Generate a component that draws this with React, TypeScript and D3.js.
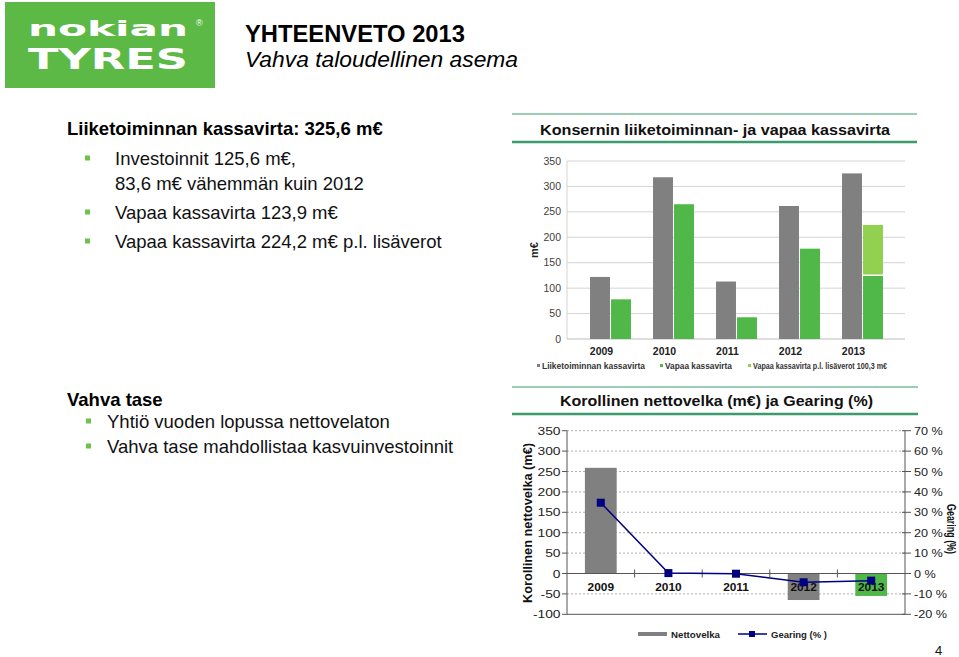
import React from "react";
import * as d3 from "d3";

const years = ["2009", "2010", "2011", "2012", "2013"];
const operatingCashFlow = [122, 318, 113, 261.5, 325.6];
const freeCashFlow = [78, 265, 42.7, 177.6, 123.9];
const freeCashFlowExTax = [0, 0, 0, 0, 100.3];
const cashTicks = [0, 50, 100, 150, 200, 250, 300, 350];
const cashLegend = ["Liiketoiminnan kassavirta", "Vapaa kassavirta", "Vapaa kassavirta p.l. lisäverot 100,3 m€"];

const netDebt = [259, 1, -1, -65, -55];
const gearing = [34.7, 0.2, -0.1, -4.3, -3.5];
const debtTicks = [-100, -50, 0, 50, 100, 150, 200, 250, 300, 350];
const gearingTicks = [-20, -10, 0, 10, 20, 30, 40, 50, 60, 70];

const FONT = "'Liberation Sans', Arial, sans-serif";
const GRAY = "#808080";
const GREEN = "#4fb848";
const LIGHT_GREEN = "#92d050";
const NAVY = "#000080";
const RULE = "#3d9a6e";

// stretched text helper (the pasted chart is slightly wider than tall)
const SText = ({ x, y, sx = 1, anchor = "start", size, weight = "normal", fill = "#222", children }: any) => (
	<text
		transform={`translate(${x},${y}) scale(${sx},1)`}
		textAnchor={anchor}
		fontSize={size}
		fontWeight={weight}
		fill={fill}
		fontFamily={FONT}
	>
		{children}
	</text>
);

const Bullet = ({ x, y }: { x: number; y: number }) => (
	<rect x={x} y={y - 2.5} width={5} height={5} fill="#6cc24a" />
);

const CashFlowChart = () => {
	const y = d3.scaleLinear().domain([0, 350]).range([339, 161]);
	const x0 = d3.scaleBand().domain(years).range([579, 894]).paddingInner(0.35).paddingOuter(0.175);
	const x1 = d3.scaleBand().domain(["op", "free"]).range([0, x0.bandwidth()]).paddingInner(0.05);
	const legendX = [542, 665, 753];
	const legendW = [103, 67, 134];
	const legendColors = [GRAY, GREEN, LIGHT_GREEN];

	return (
		<g>
			<line x1={512} x2={917} y1={114} y2={114} stroke={RULE} strokeWidth={1.2} />
			<line x1={512} x2={917} y1={142} y2={142} stroke={RULE} strokeWidth={2.5} />
			<text x={540} y={135} fontSize={14} fontWeight="bold" fontFamily={FONT} fill="#111" textLength={350} lengthAdjust="spacingAndGlyphs">
				Konsernin liiketoiminnan- ja vapaa kassavirta
			</text>

			{cashTicks.map((t) => (
				<g key={t}>
					{t > 0 && <line x1={567} x2={905} y1={y(t)} y2={y(t)} stroke="#d4d4d4" strokeWidth={1} />}
					<SText x={561} y={y(t) + 3.5} anchor="end" size={10} sx={1.05} fill="#404040">{t}</SText>
				</g>
			))}
			<line x1={567} x2={567} y1={y(350)} y2={y(0)} stroke="#d4d4d4" />
			<line x1={567} x2={905} y1={y(0)} y2={y(0)} stroke="#bdbdbd" />
			<text transform={`translate(538,${y(175)}) rotate(-90)`} textAnchor="middle" fontSize={11} fontWeight="bold" fontFamily={FONT} fill="#222">
				m€
			</text>

			{years.map((yr, i) => {
				const gx = x0(yr)!;
				return (
					<g key={yr}>
						<rect x={gx + x1("op")!} y={y(operatingCashFlow[i])} width={x1.bandwidth()} height={y(0) - y(operatingCashFlow[i])} fill={GRAY} />
						<rect x={gx + x1("free")!} y={y(freeCashFlow[i])} width={x1.bandwidth()} height={y(0) - y(freeCashFlow[i])} fill={GREEN} />
						{freeCashFlowExTax[i] > 0 && (
							<rect
								x={gx + x1("free")!}
								y={y(freeCashFlow[i] + freeCashFlowExTax[i])}
								width={x1.bandwidth()}
								height={y(freeCashFlow[i]) - y(freeCashFlow[i] + freeCashFlowExTax[i]) - 1.5}
								fill={LIGHT_GREEN}
							/>
						)}
						<SText x={gx + x1("op")! + x1.bandwidth() / 2 + 1.5} y={354.5} anchor="middle" size={10} weight="bold" sx={1.05}>
							{yr}
						</SText>
					</g>
				);
			})}

			{cashLegend.map((label, i) => (
				<g key={label}>
					<rect x={legendX[i] - 5} y={364} width={3} height={3} fill={legendColors[i]} />
					<text x={legendX[i]} y={369} fontSize={9} fontWeight="bold" fontFamily={FONT} fill="#333" textLength={legendW[i]} lengthAdjust="spacingAndGlyphs">
						{label}
					</text>
				</g>
			))}
		</g>
	);
};

const NetDebtChart = () => {
	const yL = d3.scaleLinear().domain([-100, 350]).range([614.3, 430.7]);
	const yR = d3.scaleLinear().domain([-20, 70]).range([614.3, 430.7]);
	const x = d3.scaleBand().domain(years).range([567, 905]).paddingInner(0.53).paddingOuter(0.265);
	const step = x.step();
	const cx = (yr: string) => x(yr)! + x.bandwidth() / 2;
	const lineGen = d3.line<number>().x((_, i) => cx(years[i])).y((d) => yR(d));

	return (
		<g>
			<line x1={512} x2={918} y1={387} y2={387} stroke={RULE} strokeWidth={1.2} />
			<line x1={512} x2={918} y1={414} y2={414} stroke={RULE} strokeWidth={2.5} />
			<text x={560} y={406} fontSize={14.5} fontWeight="bold" fontFamily={FONT} fill="#111" textLength={313} lengthAdjust="spacingAndGlyphs">
				Korollinen nettovelka (m€) ja Gearing (%)
			</text>

			{debtTicks.map((t) => (
				<g key={t}>
					{t !== 0 && t !== -100 && (
						<line x1={567} x2={905} y1={yL(t)} y2={yL(t)} stroke="#9a9a9a" strokeWidth={0.8} strokeDasharray="2,2" />
					)}
					<line x1={562} x2={567} y1={yL(t)} y2={yL(t)} stroke="#555" />
					<SText x={560.5} y={yL(t) + 4} anchor="end" size={11.5} sx={1.2} fill="#222">{t}</SText>
				</g>
			))}
			{gearingTicks.map((t) => (
				<g key={t}>
					<line x1={902} x2={911} y1={yR(t)} y2={yR(t)} stroke="#555" />
					<SText x={914} y={yR(t) + 4} size={11.5} sx={1.1} fill="#222">{`${t} %`}</SText>
				</g>
			))}

			{years.map((yr, i) => {
				const v = netDebt[i];
				const top = Math.min(yL(v), yL(0));
				const h = Math.abs(yL(v) - yL(0));
				return <rect key={yr} x={x(yr)!} y={top} width={x.bandwidth()} height={h} fill={i === 4 ? GREEN : GRAY} />;
			})}

			<line x1={567} x2={567} y1={yL(350)} y2={yL(-100)} stroke="#555" />
			<line x1={905} x2={905} y1={yL(350)} y2={yL(-100)} stroke="#555" />
			<line x1={567} x2={905} y1={yL(-100)} y2={yL(-100)} stroke="#555" />
			<line x1={567} x2={905} y1={yL(0)} y2={yL(0)} stroke="#555" />
			{years.slice(1).map((yr) => (
				<line key={yr} x1={x(yr)! - (step - x.bandwidth()) / 2} x2={x(yr)! - (step - x.bandwidth()) / 2} y1={yL(0) - 4} y2={yL(0) + 4} stroke="#555" />
			))}

			{years.map((yr) => (
				<SText key={yr} x={cx(yr)} y={591} anchor="middle" size={11} weight="bold" sx={1.08} fill="#111">
					{yr}
				</SText>
			))}

			<path d={lineGen(gearing) || ""} fill="none" stroke={NAVY} strokeWidth={1.5} />
			{gearing.map((g, i) => (
				<rect key={i} x={cx(years[i]) - 4} y={yR(g) - 4} width={8} height={8} fill={NAVY} />
			))}

			<text transform={`translate(532,523) rotate(-90)`} textAnchor="middle" fontSize={12} fontWeight="bold" fontFamily={FONT} fill="#111" textLength={160} lengthAdjust="spacingAndGlyphs">
				Korollinen nettovelka (m€)
			</text>
			<text transform={`translate(947,529) rotate(90)`} textAnchor="middle" fontSize={12} fontWeight="bold" fontFamily={FONT} fill="#111" textLength={50} lengthAdjust="spacingAndGlyphs">
				Gearing (%)
			</text>

			<rect x={638} y={632} width={29} height={4} fill={GRAY} />
			<text x={671} y={637.5} fontSize={9.5} fontWeight="bold" fontFamily={FONT} fill="#222" textLength={49} lengthAdjust="spacingAndGlyphs">
				Nettovelka
			</text>
			<line x1={738} x2={767} y1={634} y2={634} stroke={NAVY} strokeWidth={1.5} />
			<rect x={749} y={631} width={6} height={6} fill={NAVY} />
			<text x={771} y={637.5} fontSize={9.5} fontWeight="bold" fontFamily={FONT} fill="#222" textLength={56} lengthAdjust="spacingAndGlyphs">
				Gearing (% )
			</text>
		</g>
	);
};

export default function App() {
	return (
		<div style={{ position: "absolute", left: 0, top: 0 }}>
			<svg width={959} height={657} style={{ display: "block", background: "#fff" }} fontFamily={FONT}>
				{/* logo */}
				<rect x={5} y={2} width={210} height={86} fill="#5cb946" />
				<text x={28} y={36} fontFamily="'DejaVu Sans', sans-serif" fontWeight="bold" fontSize={22} fill="#fff" textLength={160} lengthAdjust="spacingAndGlyphs">
					nokian
				</text>
				<text x={28} y={69} fontFamily="'DejaVu Sans', sans-serif" fontWeight="bold" fontSize={29} fill="#fff" textLength={160} lengthAdjust="spacingAndGlyphs">
					TYRES
				</text>
				<text x={196} y={26} fontSize={9} fill="#fff">®</text>

				<text x={245} y={42} fontSize={24} fontWeight="bold" fill="#000" textLength={220} lengthAdjust="spacingAndGlyphs">
					YHTEENVETO 2013
				</text>
				<text x={245} y={67} fontSize={22.5} fontStyle="italic" fill="#000" textLength={273} lengthAdjust="spacingAndGlyphs">
					Vahva taloudellinen asema
				</text>

				{/* left text, upper block */}
				<text x={67} y={135} fontSize={18.5} fontWeight="bold" fill="#000">Liiketoiminnan kassavirta: 325,6 m€</text>
				<Bullet x={85} y={158} />
				<text x={115} y={165} fontSize={18.5} fill="#111">Investoinnit 125,6 m€,</text>
				<text x={115} y={190} fontSize={18.5} fill="#111">83,6 m€ vähemmän kuin 2012</text>
				<Bullet x={85} y={212} />
				<text x={115} y={219} fontSize={18.5} fill="#111">Vapaa kassavirta 123,9 m€</text>
				<Bullet x={85} y={241} />
				<text x={115} y={248} fontSize={18.5} fill="#111">Vapaa kassavirta 224,2 m€ p.l. lisäverot</text>

				{/* left text, lower block */}
				<text x={67} y={406} fontSize={18.5} fontWeight="bold" fill="#000">Vahva tase</text>
				<Bullet x={86} y={421} />
				<text x={107} y={428} fontSize={18.5} fill="#111">Yhtiö vuoden lopussa nettovelaton</text>
				<Bullet x={86} y={446} />
				<text x={107} y={453} fontSize={18.5} fill="#111">Vahva tase mahdollistaa kasvuinvestoinnit</text>

				<CashFlowChart />
				<NetDebtChart />

				<text x={935} y={655} fontSize={13} fill="#111">4</text>
			</svg>
		</div>
	);
}
